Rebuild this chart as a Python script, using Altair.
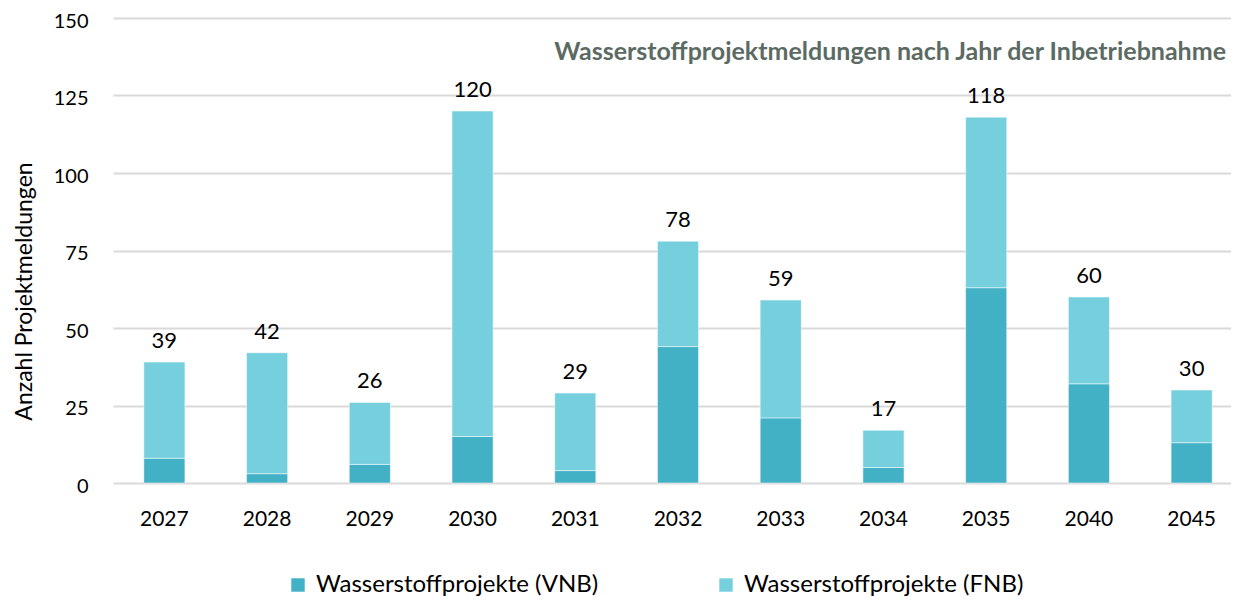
import altair as alt
import pandas as pd

years = ["2027", "2028", "2029", "2030", "2031", "2032", "2033", "2034", "2035", "2040", "2045"]
vnb = [8, 3, 6, 15, 4, 44, 21, 5, 63, 32, 13]
fnb = [31, 39, 20, 105, 25, 34, 38, 12, 55, 28, 17]
series = ["Wasserstoffprojekte (VNB)", "Wasserstoffprojekte (FNB)"]
colors = ["#42B0C5", "#75CFDD"]
title_text = "Wasserstoffprojektmeldungen nach Jahr der Inbetriebnahme"

rows = []
for i, y in enumerate(years):
    rows.append({"Jahr": y, "Serie": series[0], "Wert": vnb[i], "ord": 0})
    rows.append({"Jahr": y, "Serie": series[1], "Wert": fnb[i], "ord": 1})
df = pd.DataFrame(rows)
tot = pd.DataFrame({"Jahr": years, "Summe": [a + b for a, b in zip(vnb, fnb)]})

FONT = "Lato"
W, H = 1118, 465

xenc = alt.X("Jahr:N", sort=years, title=None,
             scale=alt.Scale(paddingInner=0.6, paddingOuter=0.3, range=[0, 1130]),
             axis=alt.Axis(labelAngle=0, labelFontSize=21, labelColor="#000000", labelFont=FONT,
                           ticks=False, domain=False, labelPadding=25))

bars = alt.Chart(df).mark_bar(stroke="white", strokeWidth=0.5).encode(
    x=xenc,
    y=alt.Y("Wert:Q", stack="zero", title="Anzahl Projektmeldungen",
            scale=alt.Scale(domain=[0, 150], nice=False),
            axis=alt.Axis(values=[0, 25, 50, 75, 100, 125, 150], labelFontSize=20, labelColor="#000000",
                          labelFont=FONT, ticks=False, domain=False, labelPadding=25, labelOffset=3,
                          gridColor="#d9d9d9", gridWidth=2, titleFont=FONT, titleFontSize=23,
                          titleFontWeight="normal", titleColor="#000000",
                          titleX=-89, titleY=273, titleBaseline="middle")),
    color=alt.Color("Serie:N", scale=alt.Scale(domain=series, range=colors),
                    legend=alt.Legend(title=None, orient="none", legendX=173, legendY=555,
                                      direction="horizontal", symbolType="square", symbolSize=180,
                                      symbolStrokeWidth=0, labelFont=FONT, labelFontSize=24,
                                      labelColor="#000000", columnPadding=115, labelLimit=500,
                                      labelOffset=6)),
    order=alt.Order("ord:Q", sort="ascending"),
)

labels = alt.Chart(tot).mark_text(fontSize=22, font=FONT, color="#000000", dy=-21, baseline="middle").encode(
    x=alt.X("Jahr:N", sort=years),
    y=alt.Y("Summe:Q"),
    text=alt.Text("Summe:Q"),
)

title = alt.Chart(pd.DataFrame({"t": [title_text]})).mark_text(
    align="right", baseline="middle", fontSize=25, fontWeight="bold", font=FONT, color="#5B6B63"
).encode(x=alt.value(1113), y=alt.value(34), text="t:N")

chart = alt.layer(bars, labels, title).properties(
    width=W, height=H,
    autosize=alt.AutoSizeParams(type="none"),
    padding={"left": 105, "top": 10, "right": 0, "bottom": 116},
).configure_view(stroke=None).configure_axisX(grid=False)

chart.save("out.html", embed_options={"renderer": "svg", "actions": False})
